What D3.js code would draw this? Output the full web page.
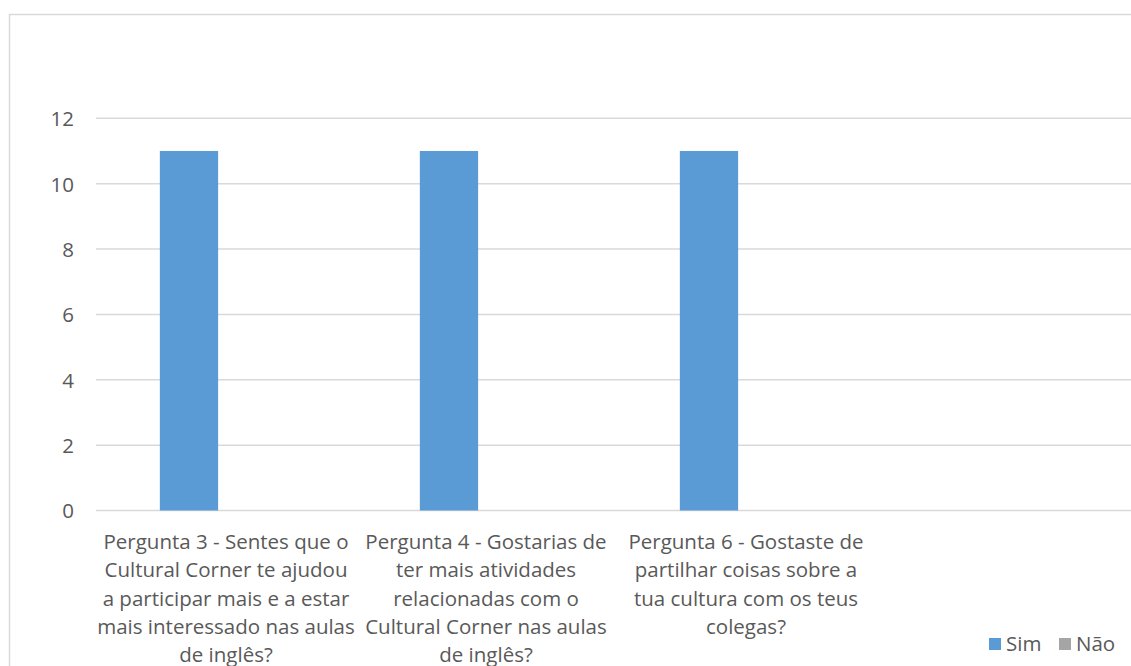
<!DOCTYPE html>
<html>
<head>
<meta charset="utf-8">
<script src="https://cdn.jsdelivr.net/npm/d3@7"></script>
<style>
  html, body { margin: 0; padding: 0; background: #fff; }
  svg { display: block; }
  text { font-family: "Open Sans", Lato, sans-serif; fill: #595959; }
</style>
</head>
<body>
<svg id="chart" width="1131" height="666"></svg>
<script>
// ---- data ----
const categories = ["P3", "P4", "P6", ""];
const categoryLabels = [
  ["Pergunta 3 - Sentes que o", "Cultural Corner te ajudou", "a participar mais e a estar", "mais interessado nas aulas", "de inglês?"],
  ["Pergunta 4 - Gostarias de", "ter mais atividades", "relacionadas com o", "Cultural Corner nas aulas", "de inglês?"],
  ["Pergunta 6 - Gostaste de", "partilhar coisas sobre a", "tua cultura com os teus", "colegas?"],
  []
];
const seriesNames = ["Sim", "Não"];
const simValues = [11, 11, 11, null];
const naoValues = [0, 0, 0, null];
const yTicks = [0, 2, 4, 6, 8, 10, 12];
const seriesColors = ["#5b9bd5", "#a5a5a5"];

// ---- layout ----
const svg = d3.select("#chart");
const plot = { left: 96, right: 1136, top: 118.3, bottom: 510.5 };
const FONT = "'Open Sans', Lato, sans-serif";

// chart border
svg.append("rect")
  .attr("x", 9.5).attr("y", 14.5)
  .attr("width", 1200).attr("height", 700)
  .attr("fill", "none").attr("stroke", "#d9d9d9").attr("stroke-width", 1.5);

const x0 = d3.scaleBand().domain(categories.map((c, i) => i)).range([plot.left, plot.right]).padding(0);
// Excel defaults: gap width 219%, overlap -27%
const x1 = d3.scaleBand().domain(seriesNames)
  .range([0, x0.bandwidth()])
  .paddingInner(0.27 / 1.27)
  .paddingOuter(1.095 / 1.27);
const y = d3.scaleLinear().domain([0, 12]).range([plot.bottom, plot.top]);

// gridlines
svg.append("g").selectAll("line").data(yTicks).join("line")
  .attr("x1", plot.left).attr("x2", plot.right)
  .attr("y1", d => y(d)).attr("y2", d => y(d))
  .attr("stroke", "#d9d9d9").attr("stroke-width", 1.5);

// y axis labels
const yAxis = d3.axisLeft(y).tickValues(yTicks).tickSize(0).tickPadding(0).tickFormat(d3.format("d"));
const gy = svg.append("g").attr("transform", `translate(${74},0)`).call(yAxis);
gy.select(".domain").remove();
gy.selectAll("text").attr("font-size", 20.5).attr("fill", "#595959")
  .style("font-family", FONT).attr("dy", "0.36em");

// bars
const rows = categories.map((c, i) => ({ i, values: [simValues[i], naoValues[i]] }));
const groups = svg.append("g").selectAll("g").data(rows).join("g")
  .attr("transform", d => `translate(${x0(d.i)},0)`);
groups.selectAll("rect")
  .data(d => d.values.map((v, k) => ({ name: seriesNames[k], v, k })).filter(e => e.v != null))
  .join("rect")
  .attr("x", d => x1(d.name))
  .attr("width", x1.bandwidth())
  .attr("y", d => y(d.v))
  .attr("height", d => y(0) - y(d.v))
  .attr("fill", d => seriesColors[d.k]);

// category labels
const lineH = 28.3;
const labelG = svg.append("g");
categoryLabels.forEach((lines, i) => {
  const cx = x0(i) + x0.bandwidth() / 2;
  const t = labelG.append("text")
    .attr("x", cx).attr("y", 549)
    .attr("text-anchor", "middle")
    .attr("font-size", 20.5);
  lines.forEach((ln, j) => {
    t.append("tspan").attr("x", cx).attr("y", 549 + j * lineH).text(ln);
  });
});

// legend
const legend = svg.append("g");
const legendX = [989, 1059];
seriesNames.forEach((name, k) => {
  legend.append("rect").attr("x", legendX[k]).attr("y", 638).attr("width", 12).attr("height", 12)
    .attr("fill", seriesColors[k]);
  legend.append("text").attr("x", legendX[k] + 17).attr("y", 651).attr("font-size", 20.5).text(name);
});
</script>
</body>
</html>
